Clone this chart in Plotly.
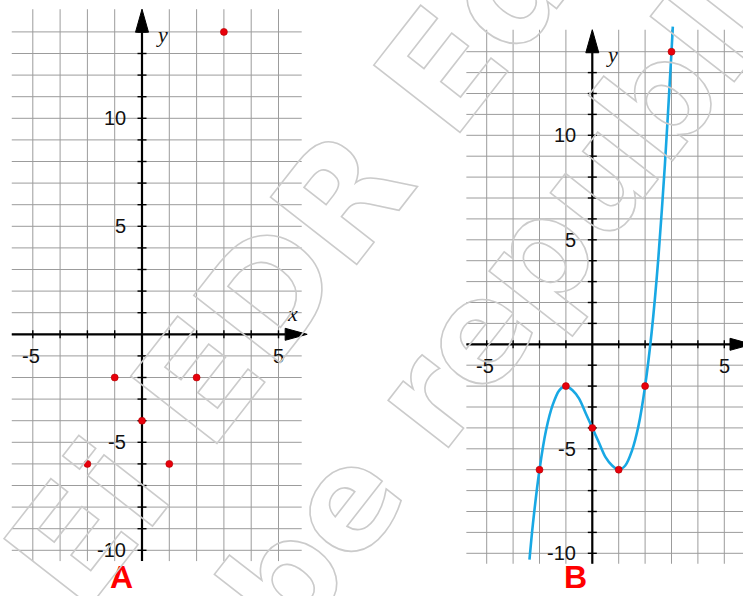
import plotly.graph_objects as go

# ---- values ----
POINT_X = [-2, -1, 0, 1, 2, 3]
POINT_Y = [-6, -2, -4, -6, -2, 14]

# curve through the points (panel B), read along its length
CURVE_X = [-2.38, -2.25, -2.0, -1.75, -1.5, -1.25, -1.0, -0.75, -0.5, -0.25, 0.0,
           0.25, 0.5, 0.75, 1.0, 1.25, 1.5, 1.75, 2.0, 2.25, 2.5, 2.75, 3.0, 3.05]
CURVE_Y = [-10.3, -8.6, -6.0, -4.1, -2.9, -2.2, -2.0, -2.2, -2.6, -3.3, -4.0,
           -4.7, -5.4, -5.8, -6.0, -5.8, -5.1, -3.9, -2.0, 0.6, 4.1, 8.6, 14.0, 15.2]

GRID_X = list(range(-4, 6))
GRID_Y = list(range(-10, 15))
Y_TICK_LABELS = [10, 5, -5, -10]
X_TICK_LABELS = [-5, 5]
PANEL_NAMES = ["A", "B"]
WATERMARK = ["Ei EDR Edi", "be republi"]

W, H = 743, 596

# origin in pixels and pixels per unit for each panel
PANELS = [
    dict(ox=142.0, oy=334.3, sx=27.3, sy=21.6, px0=0, px1=330, xa="x", ya="y",
         label_px=(121, 577)),
    dict(ox=592.3, oy=344.3, sx=26.4, sy=20.9, px0=436, px1=743, xa="x2", ya="y2",
         label_px=(575, 577)),
]

# extents of the drawn axes and grid, in units
AXIS_X0 = -4.77
TIP_X = 6.05
TIP_Y = 15.05
AXIS_Y0 = -10.5
GRID_XEND = 5.85

GRID_COLOR = "#9c9c9c"
AXIS_COLOR = "#000000"
POINT_COLOR = "#e8000b"
CURVE_COLOR = "#18a8e4"
TICK_FONT = dict(family="Liberation Sans, Arial, sans-serif", size=20, color="#111111")
VAR_FONT = dict(family="Liberation Serif, Times New Roman, serif", size=22,
                color="#111111", style="italic")

fig = go.Figure()
annotations = []
layout_axes = {}

for i, p in enumerate(PANELS):
    sx, sy = p["sx"], p["sy"]
    xa, ya = p["xa"], p["ya"]
    suffix = "" if i == 0 else str(i + 1)

    layout_axes["xaxis" + suffix] = dict(
        domain=[p["px0"] / W, p["px1"] / W],
        range=[(p["px0"] - p["ox"]) / sx, (p["px1"] - p["ox"]) / sx],
        visible=False, fixedrange=True)
    layout_axes["yaxis" + suffix] = dict(
        domain=[0, 1], range=[(p["oy"] - H) / sy, p["oy"] / sy],
        visible=False, fixedrange=True)

    # grid
    gx, gy = [], []
    for x in GRID_X:
        gx += [x, x, None]
        gy += [AXIS_Y0, TIP_Y, None]
    for y in GRID_Y:
        gx += [AXIS_X0, GRID_XEND, None]
        gy += [y, y, None]
    fig.add_trace(go.Scatter(x=gx, y=gy, mode="lines", xaxis=xa, yaxis=ya,
                             line=dict(color=GRID_COLOR, width=1), hoverinfo="skip"))

    # axis lines
    alen_x, ahw_y = 22 / sx, 6 / sy
    alen_y, ahw_x = 23 / sy, 6.5 / sx
    fig.add_trace(go.Scatter(
        x=[AXIS_X0, TIP_X - alen_x, None, 0, 0],
        y=[0, 0, None, AXIS_Y0, TIP_Y - alen_y],
        mode="lines", xaxis=xa, yaxis=ya,
        line=dict(color=AXIS_COLOR, width=2.2), hoverinfo="skip"))

    # tick marks
    tx, ty = [], []
    for x in GRID_X:
        if x != 0:
            tx += [x, x, None]
            ty += [-4 / sy, 4 / sy, None]
    for y in GRID_Y:
        if y != 0:
            tx += [-4.5 / sx, 4.5 / sx, None]
            ty += [y, y, None]
    fig.add_trace(go.Scatter(x=tx, y=ty, mode="lines", xaxis=xa, yaxis=ya,
                             line=dict(color=AXIS_COLOR, width=1.4), hoverinfo="skip"))

    # arrow heads
    fig.add_trace(go.Scatter(
        x=[TIP_X, TIP_X - alen_x, TIP_X - alen_x, TIP_X],
        y=[0, ahw_y, -ahw_y, 0],
        mode="lines", fill="toself", fillcolor=AXIS_COLOR, xaxis=xa, yaxis=ya,
        line=dict(color=AXIS_COLOR, width=1), hoverinfo="skip"))
    fig.add_trace(go.Scatter(
        x=[0, ahw_x, -ahw_x, 0],
        y=[TIP_Y, TIP_Y - alen_y, TIP_Y - alen_y, TIP_Y],
        mode="lines", fill="toself", fillcolor=AXIS_COLOR, xaxis=xa, yaxis=ya,
        line=dict(color=AXIS_COLOR, width=1), hoverinfo="skip"))

    # curve (panel B only)
    if i == 1:
        fig.add_trace(go.Scatter(x=CURVE_X, y=CURVE_Y, mode="lines", xaxis=xa, yaxis=ya,
                                 line=dict(color=CURVE_COLOR, width=2.6, shape="spline",
                                           smoothing=0.8),
                                 hoverinfo="skip"))

    # points
    fig.add_trace(go.Scatter(x=POINT_X, y=POINT_Y, mode="markers", xaxis=xa, yaxis=ya,
                             marker=dict(color=POINT_COLOR, size=7,
                                         line=dict(color="#b00000", width=0.6)),
                             cliponaxis=False))

    # tick labels
    for v in Y_TICK_LABELS:
        annotations.append(dict(x=0, y=v, xref=xa, yref=ya, text=str(v), showarrow=False,
                                xanchor="right", yanchor="middle", xshift=-14,
                                font=TICK_FONT))
    for v in X_TICK_LABELS:
        annotations.append(dict(x=max(v, GRID_X[0]), y=0, xref=xa, yref=ya, text=str(v),
                                showarrow=False, xanchor="center", yanchor="middle",
                                yshift=-22, xshift=-2 if v < 0 else 0, font=TICK_FONT))

    # variable names
    annotations.append(dict(x=TIP_X, y=0, xref=xa, yref=ya, text="x", showarrow=False,
                            xanchor="center", yanchor="middle", xshift=-15, yshift=21,
                            font=VAR_FONT))
    annotations.append(dict(x=0, y=TIP_Y, xref=xa, yref=ya, text="y", showarrow=False,
                            xanchor="center", yanchor="middle", xshift=20, yshift=-25,
                            font=VAR_FONT))

    # panel name
    lx, ly = p["label_px"]
    annotations.append(dict(x=lx / W, y=1 - ly / H, xref="paper", yref="paper",
                            text=PANEL_NAMES[i], showarrow=False,
                            xanchor="center", yanchor="middle",
                            font=dict(family="Liberation Sans, Arial, sans-serif",
                                      size=32, color="#ff0000", weight="bold")))

# diagonal outlined watermark
for text, (cx, cy), size in zip(WATERMARK, [(306, 245), (500, 302)], [150, 140]):
    annotations.append(dict(x=cx / W, y=1 - cy / H, xref="paper", yref="paper",
                            text=text, showarrow=False, textangle=-52,
                            xanchor="center", yanchor="middle",
                            font=dict(family="DejaVu Sans, sans-serif", size=size,
                                      color="rgba(210,210,210,0.2)", weight="bold")))

fig.update_layout(
    width=W, height=H,
    margin=dict(l=0, r=0, t=0, b=0),
    paper_bgcolor="white", plot_bgcolor="rgba(0,0,0,0)",
    showlegend=False,
    annotations=annotations,
    **layout_axes,
)

outline_js = """
(function(){
  var names = %s;
  function outline(){
    document.querySelectorAll('.annotation-text').forEach(function(t){
      if (names.indexOf(t.textContent) >= 0) {
        t.style.fill = 'none';
        t.style.stroke = '#cbcbcb';
        t.style.strokeWidth = '1.6px';
      }
    });
  }
  outline();
  setTimeout(outline, 30);
  var gd = document.getElementById('{plot_id}');
  if (gd && gd.on) { gd.on('plotly_afterplot', outline); }
})();
""" % str(WATERMARK).replace("'", '"')

fig.write_html("out.html", post_script=outline_js)
